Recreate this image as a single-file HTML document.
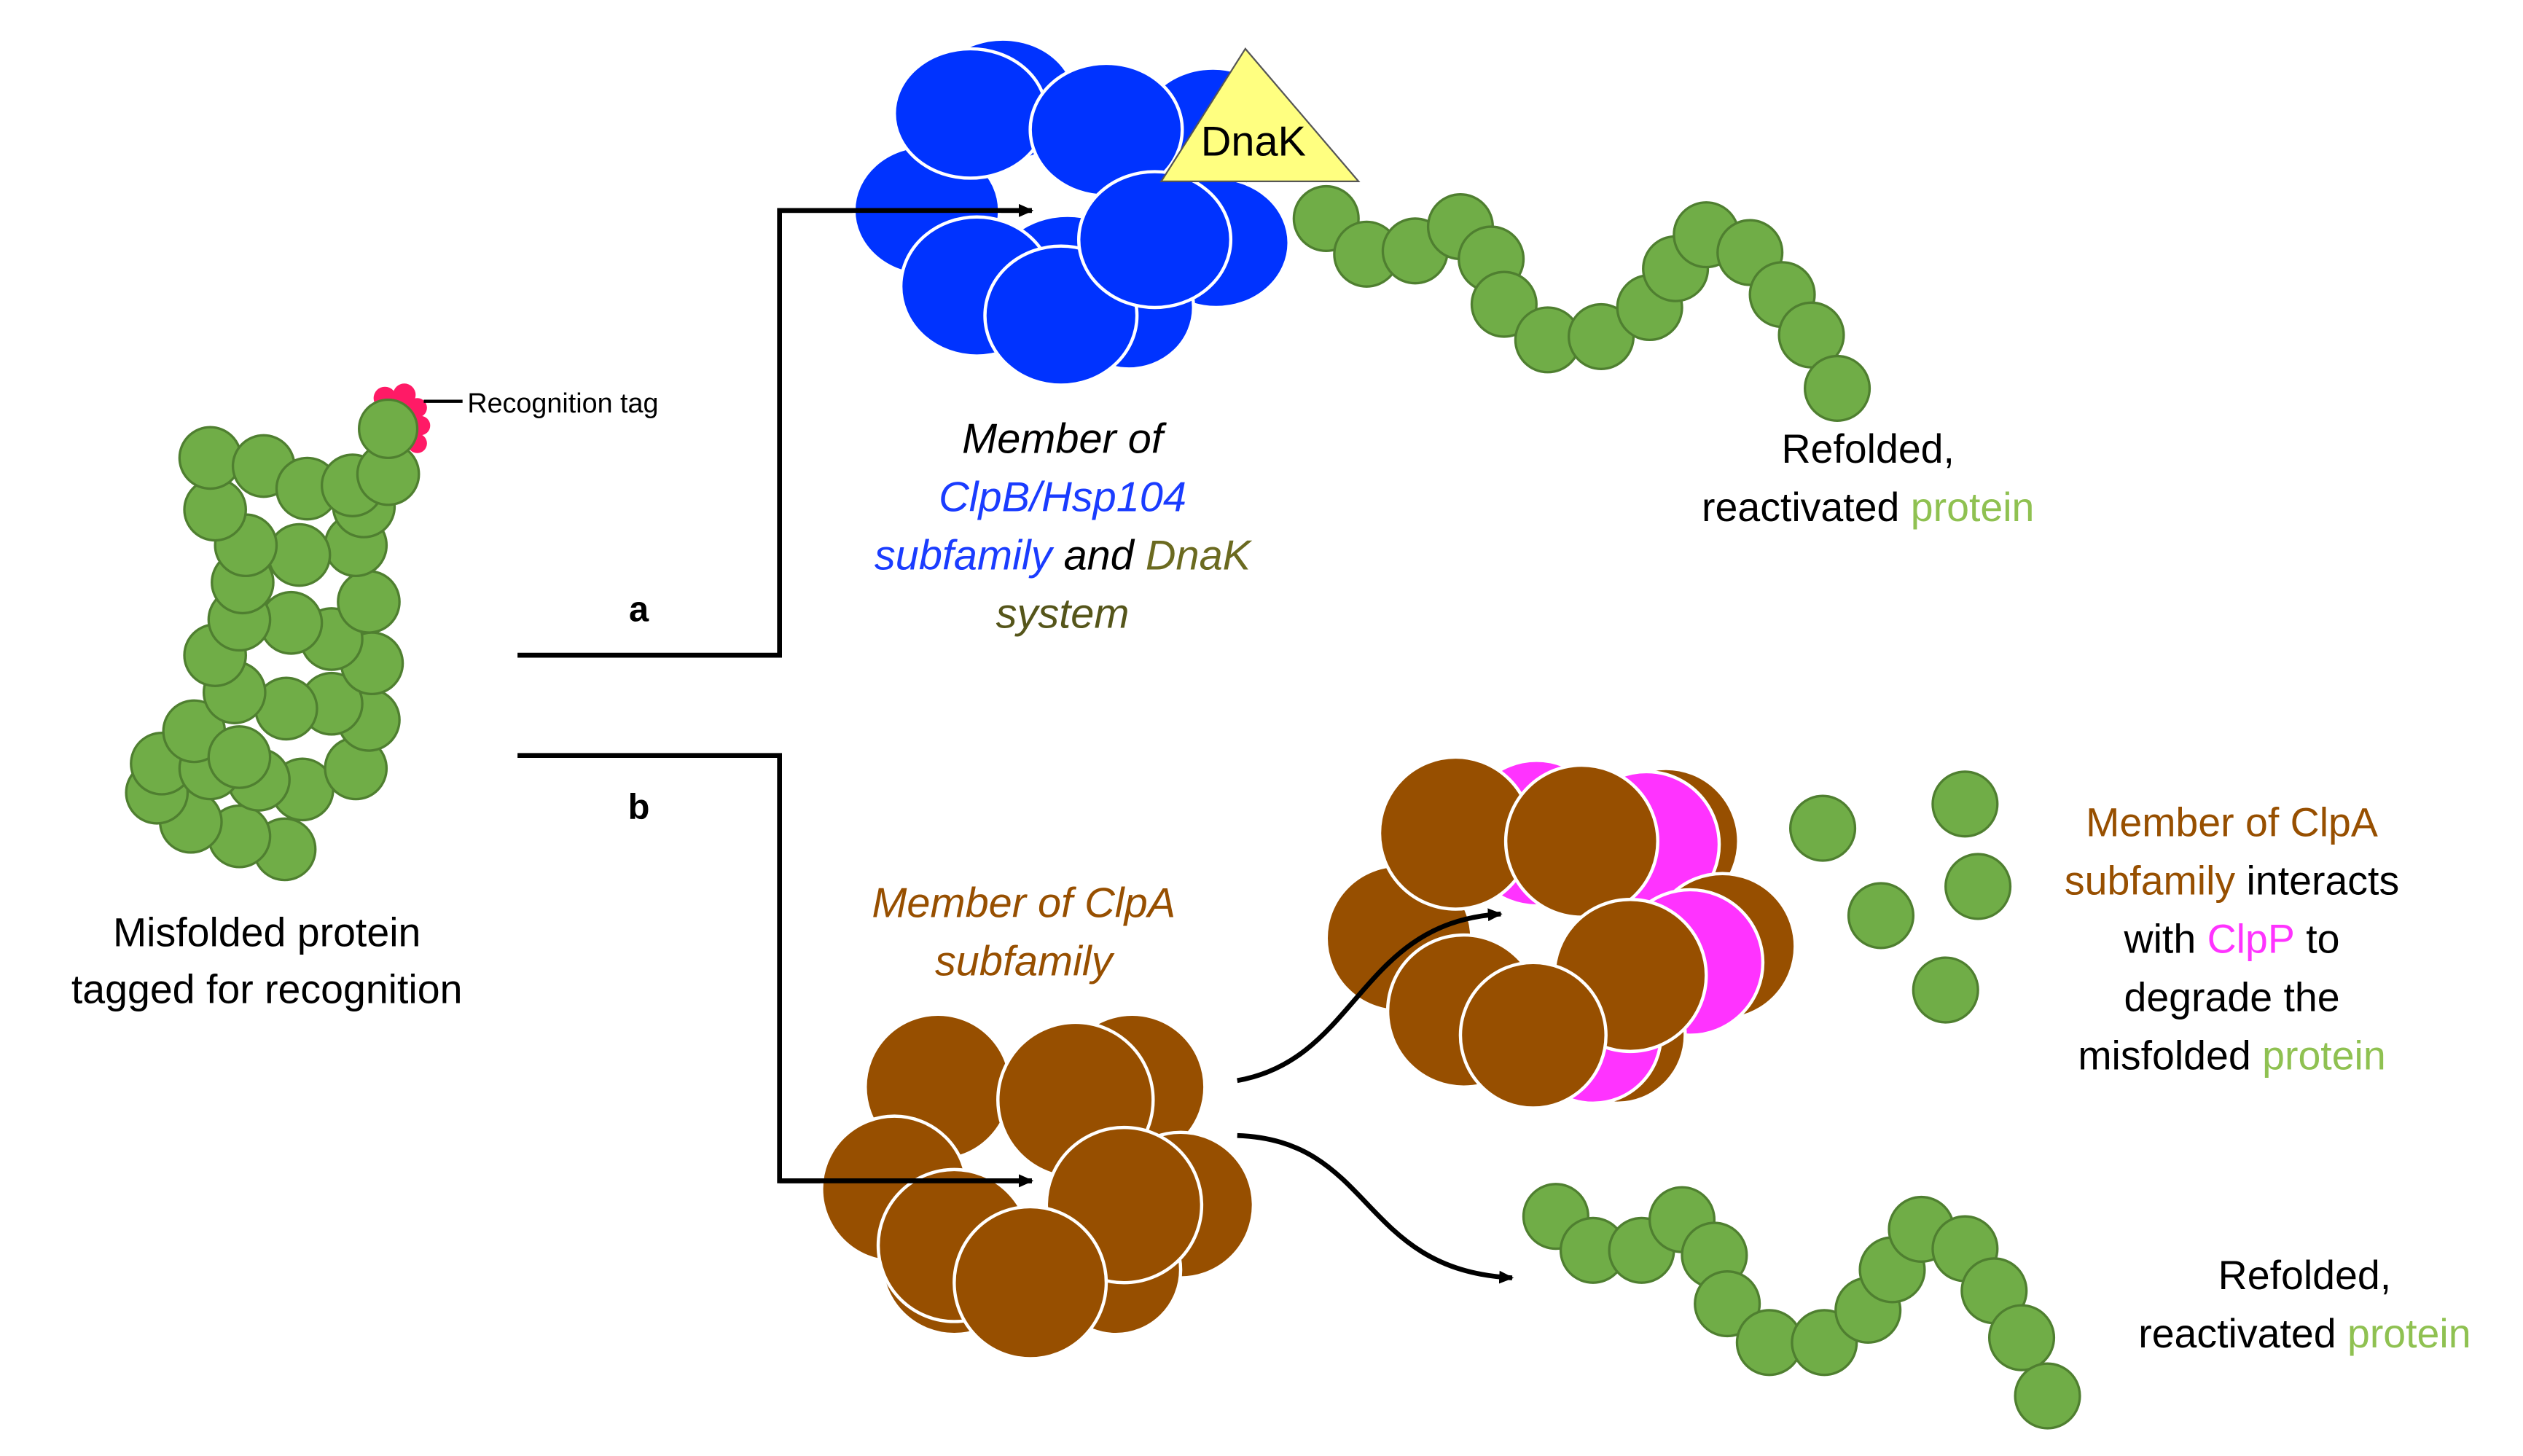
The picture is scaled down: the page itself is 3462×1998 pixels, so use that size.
<!DOCTYPE html>
<html><head><meta charset="utf-8"><style>
html,body{margin:0;padding:0;background:#fff;}
svg{display:block;}
text{font-family:"Liberation Sans",sans-serif;}
</style></head><body>
<svg width="3462" height="1998" viewBox="0 0 1560 900" xmlns="http://www.w3.org/2000/svg">
<defs>
<marker id="ah" markerWidth="10" markerHeight="10" refX="8" refY="5" orient="auto" markerUnits="userSpaceOnUse"><path d="M0,1 L9,5 L0,9 z" fill="#000"/></marker>
</defs>
<rect width="1560" height="900" fill="#fff"/>

<!-- connectors -->
<g stroke="#000" stroke-width="3" fill="none">
<polyline points="320,405 482,405 482,130 638,130" marker-end="url(#ah)"/>
<polyline points="320,467 482,467 482,730 638,730" marker-end="url(#ah)"/>
</g>

<!-- blue cluster -->
<g fill="#0033ff" stroke="#fff" stroke-width="2">
<ellipse cx="620" cy="62" rx="45" ry="38"/>
<ellipse cx="750" cy="80" rx="45" ry="38"/>
<ellipse cx="573" cy="130" rx="45" ry="40"/>
<ellipse cx="752" cy="150" rx="45" ry="40"/>
<ellipse cx="660" cy="175" rx="48" ry="42"/>
<ellipse cx="698" cy="190" rx="40" ry="38"/>
<ellipse cx="600" cy="70" rx="47" ry="40"/>
<ellipse cx="684" cy="80" rx="47" ry="41"/>
<ellipse cx="604" cy="177" rx="47" ry="43"/>
<ellipse cx="656" cy="195" rx="47" ry="43"/>
<ellipse cx="714" cy="148" rx="47" ry="42"/>
</g>
<polyline points="482,130 638,130" stroke="#000" stroke-width="3" fill="none" marker-end="url(#ah)"/>
<!-- DnaK -->
<polygon points="770,30 718,112 840,112" fill="#ffff80" stroke="#555" stroke-width="1"/>
<text x="775" y="96" font-size="26" text-anchor="middle" fill="#000">DnaK</text>

<!-- green chains -->
<g fill="#70ad47" stroke="#4f7f30" stroke-width="1.5">
<!-- top chain -->
<circle cx="820" cy="135" r="20"/><circle cx="845" cy="157" r="20"/><circle cx="875" cy="155" r="20"/>
<circle cx="903" cy="140" r="20"/><circle cx="922" cy="160" r="20"/><circle cx="930" cy="188" r="20"/>
<circle cx="957" cy="210" r="20"/><circle cx="990" cy="208" r="20"/><circle cx="1020" cy="190" r="20"/>
<circle cx="1036" cy="166" r="20"/><circle cx="1055" cy="145" r="20"/><circle cx="1082" cy="156" r="20"/>
<circle cx="1102" cy="182" r="20"/><circle cx="1120" cy="207" r="20"/><circle cx="1136" cy="240" r="20"/>
<!-- bottom chain -->
<circle cx="962" cy="752" r="20"/><circle cx="985" cy="773" r="20"/><circle cx="1015" cy="773" r="20"/>
<circle cx="1040" cy="754" r="20"/><circle cx="1060" cy="776" r="20"/><circle cx="1068" cy="806" r="20"/>
<circle cx="1094" cy="830" r="20"/><circle cx="1128" cy="830" r="20"/><circle cx="1155" cy="810" r="20"/>
<circle cx="1170" cy="785" r="20"/><circle cx="1188" cy="760" r="20"/><circle cx="1215" cy="772" r="20"/>
<circle cx="1233" cy="798" r="20"/><circle cx="1250" cy="827" r="20"/><circle cx="1266" cy="863" r="20"/>
<!-- scattered -->
<circle cx="1127" cy="512" r="20"/><circle cx="1215" cy="497" r="20"/><circle cx="1163" cy="566" r="20"/>
<circle cx="1223" cy="548" r="20"/><circle cx="1203" cy="612" r="20"/>
<!-- misfolded protein -->
<circle cx="176" cy="525" r="19"/><circle cx="148" cy="517" r="19"/><circle cx="118" cy="508" r="19"/><circle cx="97" cy="490" r="19"/>
<circle cx="100" cy="472" r="19"/><circle cx="187" cy="488" r="19"/><circle cx="160" cy="482" r="19"/><circle cx="130" cy="475" r="19"/>
<circle cx="220" cy="475" r="19"/><circle cx="120" cy="452" r="19"/><circle cx="148" cy="468" r="19"/>
<circle cx="228" cy="445" r="19"/><circle cx="205" cy="435" r="19"/><circle cx="177" cy="438" r="19"/><circle cx="145" cy="428" r="19"/>
<circle cx="133" cy="405" r="19"/><circle cx="230" cy="410" r="19"/><circle cx="205" cy="395" r="19"/><circle cx="180" cy="385" r="19"/><circle cx="148" cy="383" r="19"/>
<circle cx="228" cy="372" r="19"/><circle cx="150" cy="360" r="19"/>
<circle cx="220" cy="337" r="19"/><circle cx="185" cy="343" r="19"/><circle cx="152" cy="337" r="19"/>
<circle cx="133" cy="315" r="19"/><circle cx="225" cy="313" r="19"/>
<circle cx="130" cy="283" r="19"/><circle cx="163" cy="288" r="19"/><circle cx="190" cy="302" r="19"/><circle cx="218" cy="300" r="19"/><circle cx="240" cy="293" r="19"/>
</g>
<!-- tag -->
<g fill="#ff1a66">
<circle cx="238" cy="246" r="7"/><circle cx="250" cy="244" r="7"/><circle cx="258" cy="252" r="6"/><circle cx="260" cy="263" r="6"/><circle cx="258" cy="274" r="6"/>
</g>
<circle cx="240" cy="265" r="18" fill="#70ad47" stroke="#4f7f30" stroke-width="1.5"/>
<line x1="262" y1="248" x2="286" y2="248" stroke="#000" stroke-width="2"/>
<text x="289" y="255" font-size="17" fill="#000">Recognition tag</text>

<text x="395" y="384" font-size="22" font-weight="bold" text-anchor="middle">a</text>
<text x="395" y="506" font-size="22" font-weight="bold" text-anchor="middle">b</text>

<!-- brown cluster bottom -->
<g fill="#974f00" stroke="#fff" stroke-width="2">
<circle cx="580" cy="672" r="45"/><circle cx="700" cy="672" r="45"/><circle cx="553" cy="735" r="45"/>
<circle cx="730" cy="745" r="45"/><circle cx="590" cy="780" r="45"/><circle cx="690" cy="785" r="40"/>
<circle cx="665" cy="680" r="48"/><circle cx="695" cy="745" r="48"/><circle cx="590" cy="770" r="47"/><circle cx="637" cy="793" r="47"/>
</g>
<polyline points="482,730 638,730" stroke="#000" stroke-width="3" fill="none" marker-end="url(#ah)"/>

<!-- brown/pink cluster -->
<g stroke="#fff" stroke-width="2">
<circle cx="950" cy="515" r="45" fill="#ff33ff"/><circle cx="1030" cy="520" r="45" fill="#974f00"/>
<circle cx="1018" cy="522" r="45" fill="#ff33ff"/>
<circle cx="1065" cy="585" r="45" fill="#974f00"/><circle cx="1045" cy="595" r="45" fill="#ff33ff"/>
<circle cx="865" cy="580" r="45" fill="#974f00"/>
<circle cx="1000" cy="640" r="42" fill="#974f00"/>
<circle cx="985" cy="640" r="42" fill="#ff33ff"/>
<circle cx="900" cy="515" r="47" fill="#974f00"/>
<circle cx="978" cy="520" r="47" fill="#974f00"/>
<circle cx="905" cy="625" r="47" fill="#974f00"/>
<circle cx="1008" cy="603" r="47" fill="#974f00"/>
<circle cx="948" cy="640" r="45" fill="#974f00"/>
</g>

<!-- curved arrows -->
<g stroke="#000" stroke-width="3" fill="none">
<path d="M765,668 C840,655 840,570 928,565" marker-end="url(#ah)"/>
<path d="M765,702 C850,705 840,785 935,790" marker-end="url(#ah)"/>
</g>

<!-- texts -->
<g font-size="25" text-anchor="middle">
<text x="165" y="585">Misfolded protein</text>
<text x="165" y="620">tagged for recognition</text>
<text x="1155" y="286">Refolded,</text>
<text x="1155" y="322">reactivated <tspan fill="#8fc151">protein</tspan></text>
<text x="1425" y="797">Refolded,</text>
<text x="1425" y="833">reactivated <tspan fill="#8fc151">protein</tspan></text>
<text x="1380" y="517"><tspan fill="#974f00">Member of ClpA</tspan></text>
<text x="1380" y="553"><tspan fill="#974f00">subfamily</tspan> interacts</text>
<text x="1380" y="589">with <tspan fill="#ff33ff">ClpP</tspan> to</text>
<text x="1380" y="625">degrade the</text>
<text x="1380" y="661">misfolded <tspan fill="#8fc151">protein</tspan></text>
</g>
<g font-size="26" font-style="italic" text-anchor="middle">
<text x="657" y="280">Member of</text>
<text x="657" y="316" fill="#1a3cff">ClpB/Hsp104</text>
<text x="657" y="352"><tspan fill="#1a3cff">subfamily</tspan> and <tspan fill="#6b6a20">DnaK</tspan></text>
<text x="657" y="388" fill="#55551a">system</text>
<text x="633" y="567" fill="#974f00">Member of ClpA</text>
<text x="633" y="603" fill="#974f00">subfamily</text>
</g>
</svg>
</body></html>
